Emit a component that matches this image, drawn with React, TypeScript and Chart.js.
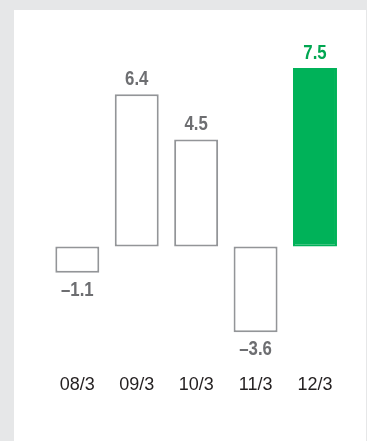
import React, { useEffect, useRef } from "react";
import { Chart, registerables } from "chart.js";

Chart.register(...registerables);

const categories = ["08/3", "09/3", "10/3", "11/3", "12/3"];
const values = [-1.1, 6.4, 4.5, -3.6, 7.5];
const fillColors = ["#ffffff", "#ffffff", "#ffffff", "#ffffff", "#00b259"];
const borderColors = ["#939598", "#939598", "#939598", "#939598", "#00b259"];
const labelColors = ["#6d6e71", "#6d6e71", "#6d6e71", "#6d6e71", "#00a651"];

const fmt = (v: number) => (v < 0 ? "\u2013" + Math.abs(v).toFixed(1) : v.toFixed(1));

const valueLabels = {
  id: "valueLabels",
  afterDatasetsDraw(chart: any) {
    const ctx = chart.ctx;
    const meta = chart.getDatasetMeta(0);
    const sx = 0.8;
    meta.data.forEach((el: any, i: number) => {
      const v = values[i];
      const y = v >= 0 ? el.y - 9.5 : el.y + 23;
      ctx.save();
      ctx.font = "bold 21px 'Liberation Sans', Arial, sans-serif";
      ctx.textAlign = "center";
      ctx.textBaseline = "alphabetic";
      ctx.fillStyle = labelColors[i];
      ctx.translate(el.x, y);
      ctx.scale(sx, 1);
      ctx.fillText(fmt(v), 0, 0);
      ctx.restore();
    });
  },
};

export default function App() {
  const ref = useRef<HTMLCanvasElement | null>(null);
  useEffect(() => {
    document.body.style.margin = "0";
    document.body.style.overflow = "hidden";
    document.documentElement.style.overflow = "hidden";
    if (!ref.current) return;
    const chart = new Chart(ref.current, {
      type: "bar",
      data: {
        labels: categories,
        datasets: [
          {
            data: values,
            backgroundColor: fillColors,
            borderColor: borderColors,
            borderWidth: 2,
            borderSkipped: false,
            categoryPercentage: 1,
            barPercentage: 0.74,
          },
        ],
      },
      options: {
        responsive: false,
        animation: false,
        devicePixelRatio: 1,
        layout: { padding: { left: 47.6, right: 22.3, top: 56.2, bottom: 35.9 } },
        plugins: { legend: { display: false }, tooltip: { enabled: false } },
        scales: {
          x: {
            grid: { display: false, drawTicks: false },
            border: { display: false },
            ticks: {
              color: "#231f20",
              padding: 9,
              font: { family: "'Liberation Sans', Arial, sans-serif", size: 18 },
            },
          },
          y: { display: false, min: -5, max: 8 },
        },
      },
      plugins: [valueLabels],
    });
    return () => chart.destroy();
  }, []);

  return (
    <div style={{ position: "fixed", left: 0, top: 0, width: 367, height: 441, background: "#e6e7e8", overflow: "hidden" }}>
      <div style={{ position: "absolute", left: 14, top: 10, width: 352, height: 460, background: "#ffffff" }} />
      <canvas ref={ref} width={367} height={441} style={{ position: "absolute", left: 0, top: 0, width: 367, height: 441 }} />
    </div>
  );
}
